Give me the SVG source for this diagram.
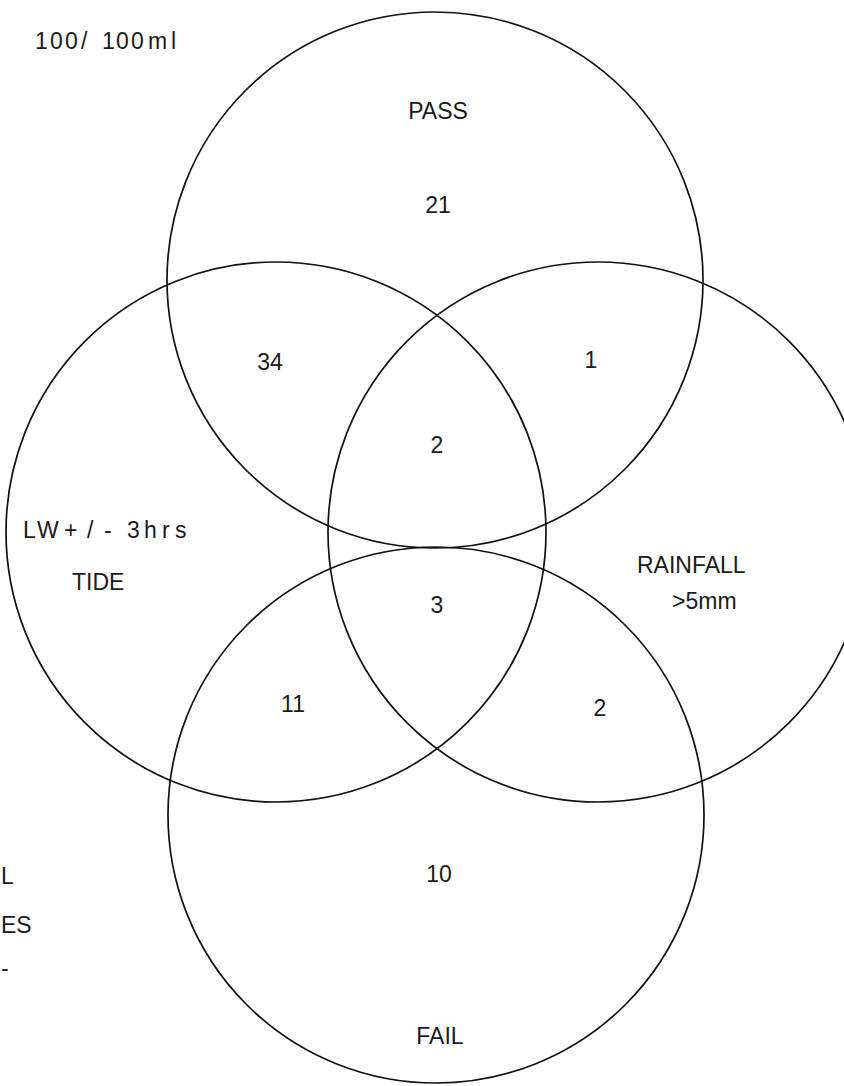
<svg xmlns="http://www.w3.org/2000/svg" width="844" height="1086" viewBox="0 0 844 1086">
<style>
  .c { fill: none; stroke: #111; stroke-width: 1.7; }
  .t { font-family: "Liberation Sans", Arial, sans-serif; font-size: 23px; fill: #1a1a1a; }
  .m { text-anchor: middle; }
</style>
<rect width="844" height="1086" fill="#ffffff"/>
<text class="t" x="35 50 65 81 102 116 131 148 171" y="49">100/100ml</text>
<g id="pass">
  <circle class="c" cx="435" cy="280" r="268"/>
  <text class="t m" x="438" y="119">PASS</text>
  <text class="t m" x="438" y="213">21</text>
</g>
<g id="tide">
  <circle class="c" cx="276" cy="532" r="270"/>
  <text class="t" x="23 37 64 87 104 127 144 162 175" y="538">LW+/-3hrs</text>
  <text class="t" x="72" y="590">TIDE</text>
</g>
<g id="rainfall">
  <circle class="c" cx="598" cy="532" r="270"/>
  <text class="t" x="637" y="573">RAINFALL</text>
  <text class="t" x="672" y="609">&gt;5mm</text>
</g>
<g id="fail">
  <circle class="c" cx="436" cy="815" r="268"/>
  <text class="t m" x="440" y="1044">FAIL</text>
</g>
<g id="counts">
  <text class="t m" x="270" y="370">34</text>
  <text class="t m" x="591" y="368">1</text>
  <text class="t m" x="437" y="453">2</text>
  <text class="t m" x="437" y="613">3</text>
  <text class="t m" x="293" y="712">11</text>
  <text class="t m" x="600" y="716">2</text>
  <text class="t m" x="439" y="882">10</text>
</g>
<g id="margin-fragments">
  <text class="t" x="1" y="884">L</text>
  <text class="t" x="1" y="933">ES</text>
  <text class="t" x="1" y="976">-</text>
</g>
<g id="connectors"></g>
</svg>
